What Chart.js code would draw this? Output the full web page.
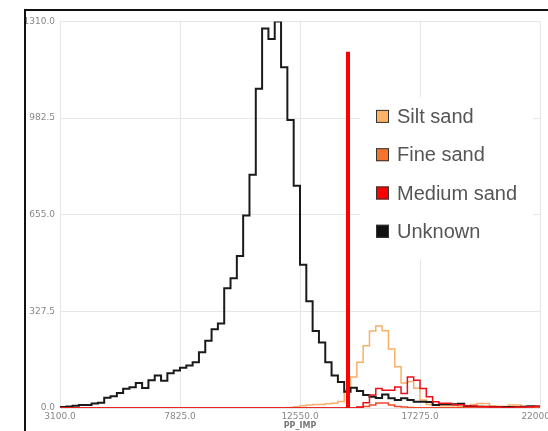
<!DOCTYPE html>
<html lang="en">
<head>
    <meta charset="UTF-8">
    <title>PP_IMP histogram</title>
    <script src="https://cdn.jsdelivr.net/npm/chart.js@4"></script>
    <style>
        html, body {
            margin: 0;
            padding: 0;
            width: 548px;
            height: 431px;
            overflow: hidden;
            background: #fff;
        }

        .frame {
            position: absolute;
            left: 24px;
            top: 9px;
            width: 600px;
            height: 500px;
            border-left: 2px solid #111;
            border-top: 2px solid #111;
        }

        .chart-box {
            position: absolute;
            left: 26px;
            top: 11px;
            width: 540px;
            height: 420px;
        }
    </style>
</head>
<body>
    <div class="frame"></div>
    <div class="chart-box">
        <canvas id="histChart"></canvas>
    </div>

    <script>
        // histogram bins over PP_IMP
        const binStart = 3100;
        const binEnd = 22000;

        const xTicks = [3100, 7825, 12550, 17275, 22000];
        const yTicks = [0, 327.5, 655, 982.5, 1310];

        const labels = ['Silt sand', 'Fine sand', 'Medium sand', 'Unknown'];
        const colors = ['#fbb266', '#f5752f', '#ff0000', '#111111'];

        const siltSand = [
            0, 0, 0, 0, 0, 0, 0, 0, 0, 0, 0, 0, 0, 0, 0, 0, 0, 0, 0, 0,
            0, 0, 0, 0, 0, 0, 0, 0, 0, 0, 0, 0, 0, 0, 0, 0, 2, 4, 8, 10,
            12, 12, 14, 16, 22, 60, 105, 155, 211, 261, 278, 262, 200, 140, 85, 90, 67, 27, 12, 10,
            8, 8, 8, 6, 8, 12, 15, 15, 8, 6, 5, 10, 10, 5, 4, 3
        ];
        const fineSand = [
            0, 0, 0, 0, 0, 0, 0, 0, 0, 0, 0, 0, 0, 0, 0, 0, 0, 0, 0, 0,
            0, 0, 0, 0, 0, 0, 0, 0, 0, 0, 0, 0, 0, 0, 0, 0, 0, 0, 0, 0,
            0, 0, 0, 0, 0, 0, 0, 2, 5, 10, 17, 17, 10, 5, 3, 2, 1, 1, 1, 1,
            1, 1, 1, 1, 1, 1, 1, 1, 1, 1, 1, 1, 1, 1, 1, 1
        ];
        const mediumSand = [
            0, 0, 0, 0, 0, 0, 0, 0, 0, 0, 0, 0, 0, 0, 0, 0, 0, 0, 0, 0,
            0, 0, 0, 0, 0, 0, 0, 0, 0, 0, 0, 0, 0, 0, 0, 0, 0, 0, 0, 0,
            0, 0, 0, 0, 0, 0, 0, 3, 18, 44, 66, 60, 60, 71, 49, 105, 94, 66, 38, 21,
            16, 16, 11, 11, 7, 7, 5, 4, 3, 3, 2, 2, 3, 3, 4, 6
        ];
        const unknown = [
            3, 5, 8, 10, 10, 15, 18, 35, 40, 51, 65, 70, 85, 68, 94, 110, 92, 118, 127, 136,
            144, 155, 189, 228, 267, 286, 406, 440, 515, 652, 790, 1082, 1286, 1250, 1310, 1155, 976, 753, 485, 362,
            261, 222, 155, 110, 88, 55, 69, 58, 44, 38, 34, 46, 33, 27, 33, 27, 21, 21, 20, 10,
            13, 13, 13, 14, 7, 5, 4, 4, 3, 3, 3, 3, 3, 4, 6, 5
        ];

        // cut-off marker
        const cutoffX = 14440;
        const cutoffTop = 1200;

        function toSteps(counts) {
            const width = (binEnd - binStart) / counts.length;
            const points = counts.map((c, i) => ({ x: binStart + i * width, y: c }));
            points.push({ x: binEnd, y: counts[counts.length - 1] });
            return points;
        }

        function histDataset(label, counts, color, width, order) {
            return {
                label: label,
                data: toSteps(counts),
                borderColor: color,
                borderWidth: width,
                stepped: true,
                pointRadius: 0,
                fill: false,
                order: order
            };
        }

        const tickFont = { family: 'DejaVu Sans', size: 9 };
        const gridColor = '#e6e6e6';

        // legend drawn inside the plot, on a white box
        const sandLegend = {
            id: 'sandLegend',
            afterDraw(chart) {
                const ctx = chart.ctx;
                const area = chart.chartArea;
                ctx.save();
                ctx.fillStyle = '#fff';
                ctx.fillRect(area.left + 300, area.top + 76, 173, 162);
                ctx.font = '20px "Liberation Sans", Arial, sans-serif';
                ctx.textBaseline = 'middle';
                labels.forEach((label, i) => {
                    const x = area.left + 316;
                    const y = area.top + 95 + i * 38.3;
                    ctx.fillStyle = colors[i];
                    ctx.fillRect(x, y - 6.5, 13, 13);
                    ctx.strokeStyle = '#333';
                    ctx.lineWidth = 1;
                    ctx.strokeRect(x + 0.5, y - 6, 12, 12);
                    ctx.fillStyle = '#555';
                    ctx.fillText(label, x + 21, y + 1);
                });
                ctx.restore();
            }
        };

        new Chart(document.getElementById('histChart'), {
            type: 'line',
            data: {
                datasets: [
                    {
                        label: 'cutoff',
                        data: [{ x: cutoffX, y: 0 }, { x: cutoffX, y: cutoffTop }],
                        borderColor: '#ff0000',
                        borderWidth: 4,
                        borderCapStyle: 'square',
                        pointRadius: 0,
                        order: 0
                    },
                    histDataset(labels[2], mediumSand, '#e8101a', 1.5, 1),
                    histDataset(labels[1], fineSand, '#ee4a2a', 1.5, 2),
                    histDataset(labels[3], unknown, '#1a1a1a', 2, 3),
                    histDataset(labels[0], siltSand, '#f7b06a', 1.5, 4)
                ]
            },
            options: {
                responsive: true,
                maintainAspectRatio: false,
                animation: false,
                layout: { padding: { top: 6, right: 26, left: 0, bottom: 0 } },
                plugins: {
                    legend: { display: false },
                    tooltip: { enabled: false }
                },
                scales: {
                    x: {
                        type: 'linear',
                        min: binStart,
                        max: binEnd,
                        afterBuildTicks: scale => { scale.ticks = xTicks.map(v => ({ value: v })); },
                        afterFit: scale => { scale.height = 23; },
                        ticks: {
                            callback: v => v.toFixed(1),
                            font: tickFont,
                            color: '#888',
                            padding: 3,
                            maxRotation: 0,
                            autoSkip: false
                        },
                        grid: { color: gridColor, drawTicks: false },
                        border: { color: gridColor },
                        title: {
                            display: true,
                            text: 'PP_IMP',
                            font: { family: 'DejaVu Sans', size: 8, weight: 'bold' },
                            color: '#777',
                            padding: 0
                        }
                    },
                    y: {
                        min: 0,
                        max: 1310,
                        afterBuildTicks: scale => { scale.ticks = yTicks.map(v => ({ value: v })); },
                        afterFit: scale => { scale.width = 34; },
                        ticks: {
                            callback: v => v.toFixed(1),
                            font: tickFont,
                            color: '#888',
                            padding: 5
                        },
                        grid: { color: gridColor, drawTicks: false },
                        border: { color: gridColor }
                    }
                }
            },
            plugins: [sandLegend]
        });
    </script>
</body>
</html>
